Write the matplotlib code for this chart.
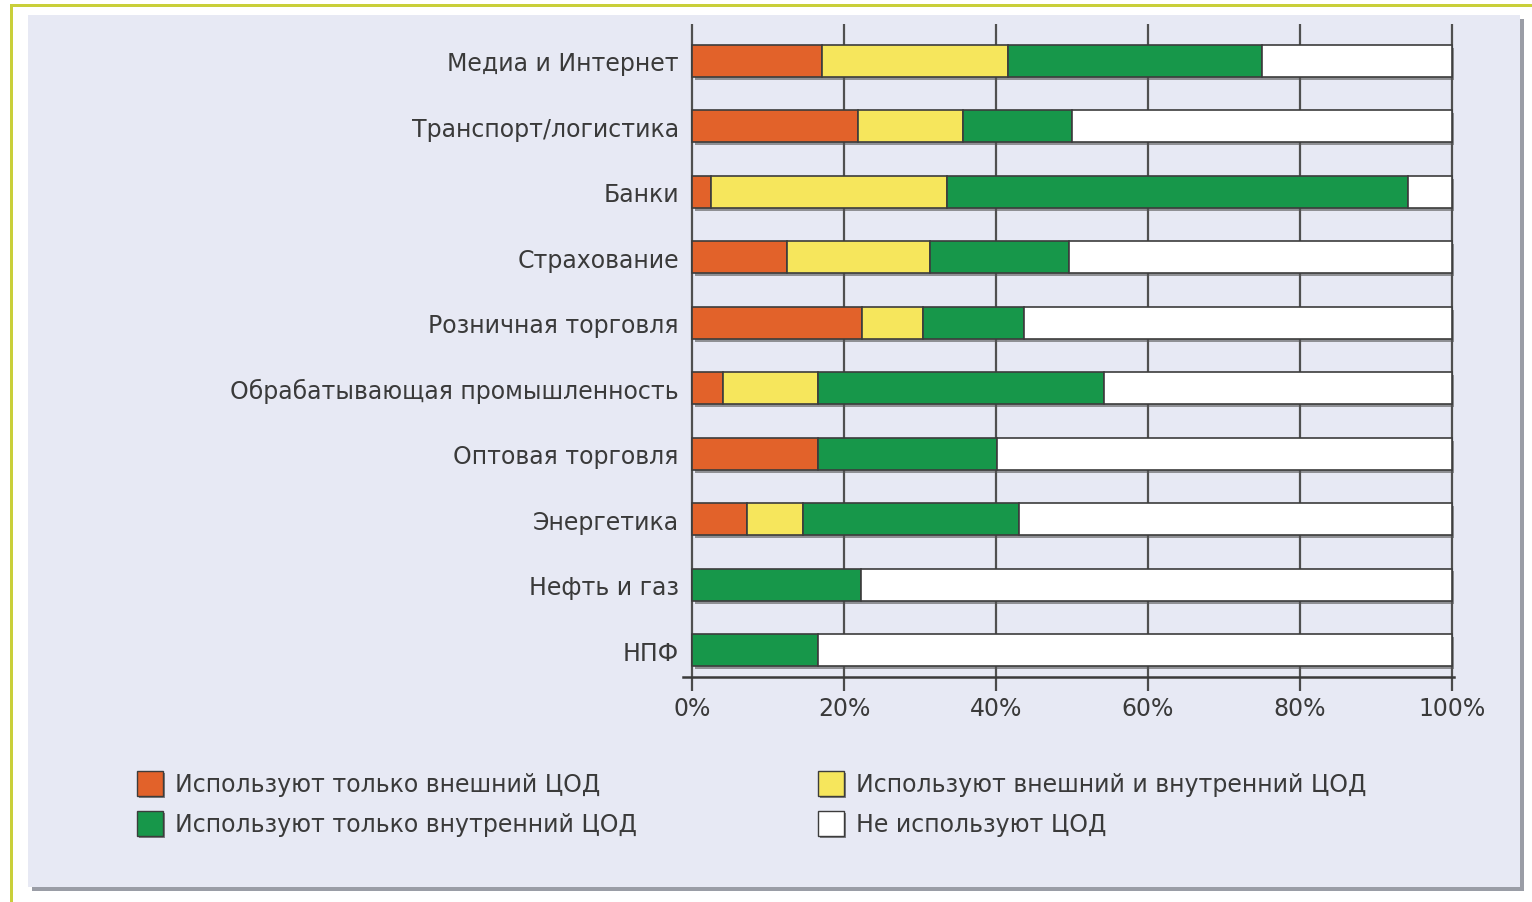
import matplotlib.pyplot as plt
import matplotlib.patheffects as pe
from matplotlib.patches import Rectangle
import numpy as np

# данные (доли, %)
otrasli = ['Медиа и Интернет', 'Транспорт/логистика', 'Банки', 'Страхование',
           'Розничная торговля', 'Обрабатывающая промышленность', 'Оптовая торговля',
           'Энергетика', 'Нефть и газ', 'НПФ']
tolko_vneshniy = [17.1, 21.8, 2.5, 12.5, 22.4, 4.1, 16.6, 7.2, 0, 0]
vneshniy_i_vnutr = [24.5, 13.9, 31.0, 18.8, 8.0, 12.5, 0, 7.4, 0, 0]
tolko_vnutrenniy = [33.4, 14.3, 60.7, 18.3, 13.3, 37.6, 23.5, 28.4, 22.2, 16.6]
ne_ispolzuyut = [100 - a - b - c for a, b, c in zip(tolko_vneshniy, vneshniy_i_vnutr, tolko_vnutrenniy)]

serii = ['Используют только внешний ЦОД', 'Используют внешний и внутренний ЦОД',
         'Используют только внутренний ЦОД', 'Не используют ЦОД']
tsveta = ['#e2622a', '#f6e65c', '#17974a', '#ffffff']
tiki = [0, 20, 40, 60, 80, 100]

plt.rcParams['font.family'] = ['DejaVu Sans']
tekst = '#3a3a3a'

fig = plt.figure(figsize=(15.32, 9.03), dpi=100)
fig.patch.set_facecolor('white')

# рамка и подложка
W, H = 1532, 903
def fr(x, y, w, h, **kw):
    fig.patches.append(Rectangle((x / W, 1 - (y + h) / H), w / W, h / H,
                                 transform=fig.transFigure, **kw))
fr(10, 5, 1522, 3, facecolor='#c9cf3a', edgecolor='none', zorder=0)
fr(10, 5, 3, 898, facecolor='#c9cf3a', edgecolor='none', zorder=0)
fr(32, 20, 1492, 872, facecolor='#9a9da6', edgecolor='none', zorder=0)
fr(28, 16, 1492, 872, facecolor='#e7e9f4', edgecolor='none', zorder=0)

ax = fig.add_axes([683 / W, 1 - 678 / H, (1454 - 683) / W, (678 - 25) / H])
ax.set_facecolor('none')
ax.set_zorder(5)

y = np.arange(len(otrasli))
dannye = [tolko_vneshniy, vneshniy_i_vnutr, tolko_vnutrenniy, ne_ispolzuyut]
ten = [pe.SimplePatchShadow(offset=(2, -2), shadow_rgbFace='#555555', alpha=0.6), pe.Normal()]
left = np.zeros(len(otrasli))
for vals, c in zip(dannye, tsveta):
    vals = np.array(vals)
    bars = ax.barh(y, vals, left=left, height=0.49, color=c, edgecolor='#3c3c3c',
                   linewidth=1.2, zorder=3)
    for b in bars:
        b.set_path_effects(ten)
    left += vals

ax.set_xlim(-1.2, 100.3)
ax.set_ylim(9.41, -0.565)
ax.set_xticks(tiki)
ax.set_xticklabels([f'{t}%' for t in tiki], color=tekst, fontsize=17)
ax.set_yticks(y)
ax.set_yticklabels(otrasli, color=tekst, fontsize=17)
ax.tick_params(axis='y', length=0, pad=3)
ax.tick_params(axis='x', length=10, width=1.6, color='#4a4a4a', pad=4)
ax.grid(axis='x', color='#505050', linewidth=1.6, zorder=1)
ax.set_axisbelow(True)
for s in ['top', 'right', 'left']:
    ax.spines[s].set_visible(False)
ax.spines['bottom'].set_color('#3a3a3a')
ax.spines['bottom'].set_linewidth(1.8)

# легенда
leg_pos = [(137, 772), (818, 772), (137, 812), (818, 812)]
for (lx, ly), name, c in zip(leg_pos, serii, tsveta):
    fr(lx + 2, ly + 2, 26, 25, facecolor='#555555', edgecolor='none', alpha=0.7, zorder=2)
    fr(lx, ly, 26, 25, facecolor=c, edgecolor='#3c3c3c', linewidth=1.0, zorder=3)
    fig.text((lx + 38) / W, 1 - (ly + 13) / H, name, color=tekst, fontsize=17,
             va='center', ha='left')

fig.savefig('out.png', dpi=100)
